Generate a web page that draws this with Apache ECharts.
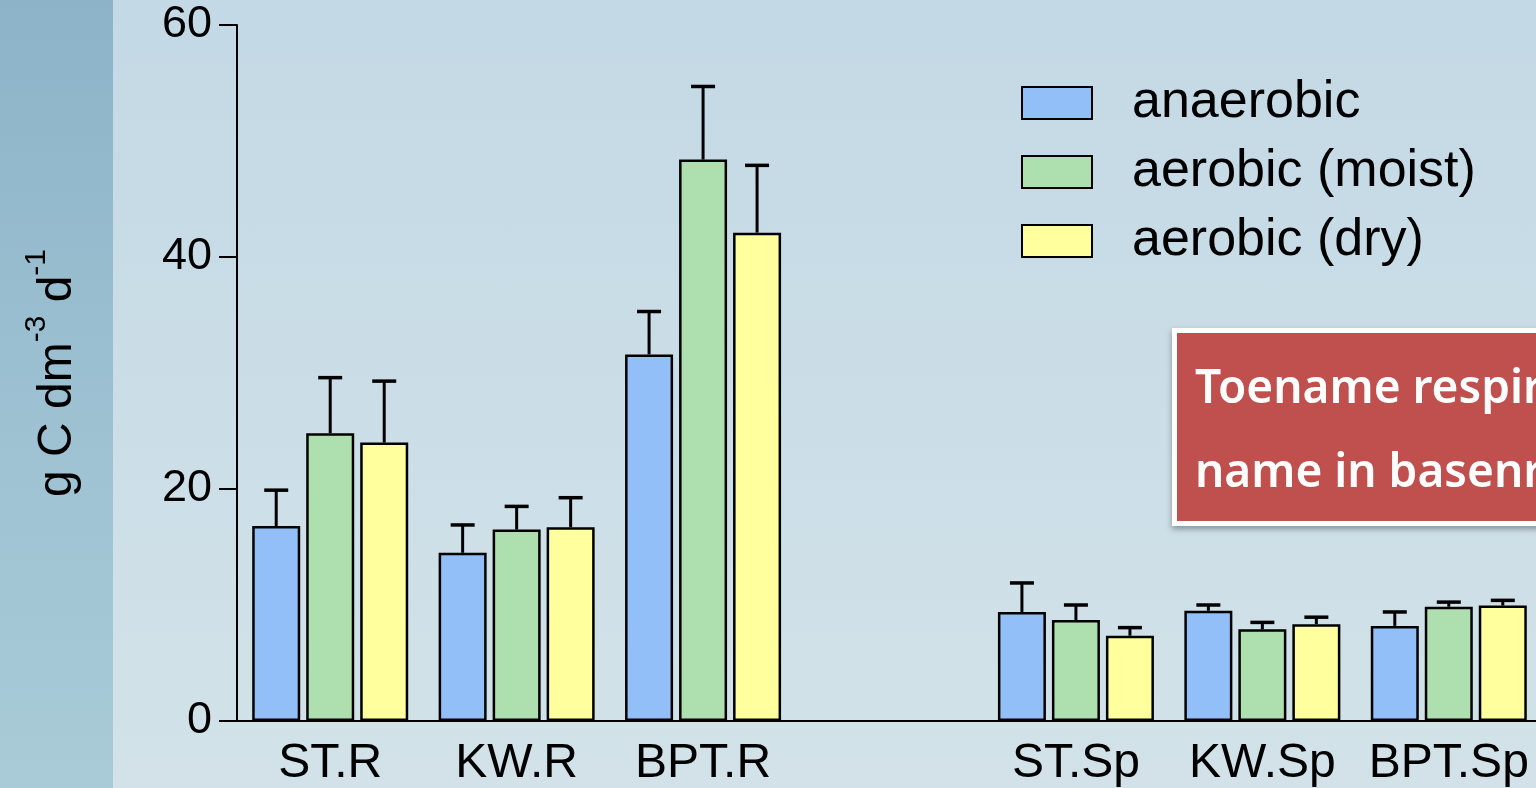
<!DOCTYPE html>
<html>
<head>
<meta charset="utf-8">
<script src="https://cdn.jsdelivr.net/npm/echarts@6/dist/echarts.min.js"></script>
<style>
  html, body { margin: 0; padding: 0; width: 1536px; height: 788px; overflow: hidden; }
  body {
    background:
      linear-gradient(180deg, #8cb3c8 0%, #9fc3d3 60%, #a9cbd7 100%) 0 0 / 113px 100% no-repeat,
      linear-gradient(180deg, #c3d9e5 0%, #cadde7 45%, #d2e2e8 100%);
  }
  #chart { width: 1536px; height: 788px; }
</style>
</head>
<body>
<div id="chart"></div>
<script>
// ---- data ----
const categories = ['ST.R', 'KW.R', 'BPT.R', '', 'ST.Sp', 'KW.Sp', 'BPT.Sp'];
const seriesNames = ['anaerobic', 'aerobic (moist)', 'aerobic (dry)'];
const anaerobicMean  = [16.8, 14.5, 31.6, null, 9.4, 9.5, 8.2];
const anaerobicUpper = [19.9, 16.9, 35.3, null, 11.9, 10.0, 9.4];
const moistMean      = [24.8, 16.5, 48.4, null, 8.7, 7.9, 9.85];
const moistUpper     = [29.6, 18.5, 54.7, null, 10.0, 8.5, 10.25];
const dryMean        = [24.0, 16.7, 42.1, null, 7.35, 8.35, 9.95];
const dryUpper       = [29.3, 19.25, 47.9, null, 8.05, 8.95, 10.4];
const yTicks = [0, 20, 40, 60];
const yAxisTitle = ['g C dm', '-3', ' d', '-1'];
const annotationLines = ['Toename respiratie', 'name in basenrespiratie'];

const colors = ['#92bff8', '#aedfae', '#ffff9e'];
const means = [anaerobicMean, moistMean, dryMean];
const uppers = [anaerobicUpper, moistUpper, dryUpper];

const FONT = '"Liberation Sans", Arial, sans-serif';
const BAR_W = 48;
const BAR_GAP_PX = 6;

const chart = echarts.init(document.getElementById('chart'), null, { renderer: 'canvas' });

const barSeries = seriesNames.map((name, i) => ({
  name: name,
  type: 'bar',
  barWidth: BAR_W,
  barGap: (BAR_GAP_PX / BAR_W * 100).toFixed(1) + '%',
  itemStyle: { color: colors[i], borderColor: '#000', borderWidth: 2.5 },
  emphasis: { disabled: true },
  data: means[i].map(v => v === null ? '-' : v),
  z: 2
}));

const errSeries = seriesNames.map((name, i) => ({
  name: name + ' error',
  type: 'custom',
  coordinateSystem: 'cartesian2d',
  silent: true,
  z: 3,
  encode: { x: 0, y: [1, 2] },
  data: means[i].map((m, k) => m === null ? null : [k, m, uppers[i][k]]).filter(d => d),
  renderItem: function (params, api) {
    const base = api.coord([api.value(0), api.value(1)]);
    const top = api.coord([api.value(0), api.value(2)]);
    const cx = base[0] + (i - 1) * (BAR_W + BAR_GAP_PX);
    const half = 12;
    return {
      type: 'group',
      children: [
        { type: 'line', shape: { x1: cx, y1: base[1], x2: cx, y2: top[1] },
          style: { stroke: '#000', lineWidth: 3 } },
        { type: 'line', shape: { x1: cx - half, y1: top[1], x2: cx + half, y2: top[1] },
          style: { stroke: '#000', lineWidth: 3.5 } }
      ]
    };
  }
}));

const option = {
  backgroundColor: 'transparent',
  animation: false,
  grid: { left: 237, top: 25, bottom: 67, width: 1305, containLabel: false, outerBoundsMode: 'none' },
  legend: {
    data: seriesNames,
    orient: 'vertical',
    left: 1016,
    top: 72,
    itemWidth: 70,
    itemHeight: 32,
    itemGap: 17,
    icon: 'rect',
    textStyle: { fontSize: 52, lineHeight: 50, color: '#000', fontFamily: FONT, padding: [0, 0, 0, 35] },
    selectedMode: false
  },
  xAxis: {
    type: 'category',
    data: categories,
    axisLine: { lineStyle: { color: '#000', width: 2 } },
    axisTick: { alignWithLabel: true, length: 16, lineStyle: { color: '#000', width: 2 },
      interval: 0 },
    axisLabel: { fontSize: 48, color: '#000', fontFamily: FONT, margin: 19, interval: 0 },
    splitLine: { show: false }
  },
  yAxis: {
    type: 'value',
    min: yTicks[0],
    max: yTicks[yTicks.length - 1],
    interval: yTicks[1] - yTicks[0],
    name: '{m|' + yAxisTitle[0] + '}{s|' + yAxisTitle[1] + '}{m|' + yAxisTitle[2] + '}{s|' + yAxisTitle[3] + '}',
    nameLocation: 'middle',
    nameRotate: 90,
    nameGap: 155,
    nameTextStyle: {
      color: '#000',
      fontFamily: FONT,
      rich: {
        m: { fontSize: 48, fontFamily: FONT, color: '#000', verticalAlign: 'bottom', lineHeight: 60 },
        s: { fontSize: 30, fontFamily: FONT, color: '#000', verticalAlign: 'top', lineHeight: 60 }
      }
    },
    axisLine: { show: true, lineStyle: { color: '#000', width: 2 } },
    axisTick: { show: true, length: 18, lineStyle: { color: '#000', width: 2 } },
    axisLabel: { fontSize: 45, color: '#000', fontFamily: FONT, margin: 25 },
    splitLine: { show: false }
  },
  graphic: [
    {
      type: 'group',
      left: 1172,
      top: 328,
      children: [
        { type: 'rect', shape: { x: 0, y: 0, width: 420, height: 198 },
          style: { fill: '#ffffff', shadowBlur: 6, shadowOffsetY: 3, shadowColor: 'rgba(0,0,0,0.35)' } },
        { type: 'rect', shape: { x: 5, y: 5, width: 420, height: 188 },
          style: { fill: '#c0504d' } },
        { type: 'text', x: 23, y: 62, style: { text: annotationLines[0], fill: '#fff',
          font: '600 46px "Noto Sans", "Open Sans", sans-serif', verticalAlign: 'middle' } },
        { type: 'text', x: 23, y: 146, style: { text: annotationLines[1], fill: '#fff',
          font: '600 46px "Noto Sans", "Open Sans", sans-serif', verticalAlign: 'middle' } }
      ]
    }
  ],
  series: [...barSeries, ...errSeries]
};

chart.setOption(option);
</script>
</body>
</html>
